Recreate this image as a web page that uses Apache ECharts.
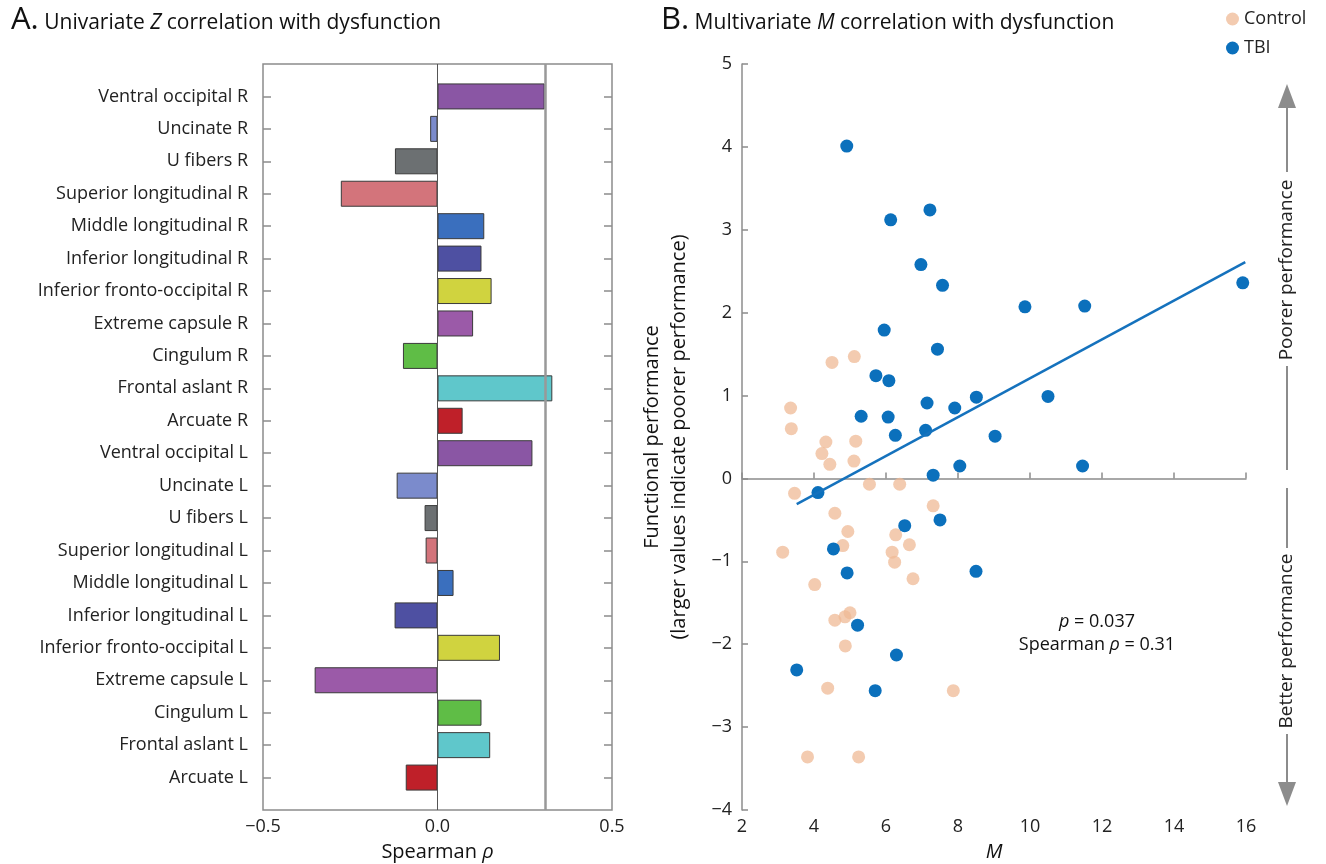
<!DOCTYPE html>
<html>
<head>
<meta charset="utf-8">
<script src="https://cdn.jsdelivr.net/npm/echarts@6/dist/echarts.min.js"></script>
<style>
  html, body { margin: 0; padding: 0; background: #fff; }
  #chart { width: 1326px; height: 864px; }
</style>
</head>
<body>
<div id="chart"></div>
<script>
// panel A: univariate correlations per tract
const tractNames = [
  'Ventral occipital R', 'Uncinate R', 'U fibers R', 'Superior longitudinal R',
  'Middle longitudinal R', 'Inferior longitudinal R', 'Inferior fronto-occipital R',
  'Extreme capsule R', 'Cingulum R', 'Frontal aslant R', 'Arcuate R',
  'Ventral occipital L', 'Uncinate L', 'U fibers L', 'Superior longitudinal L',
  'Middle longitudinal L', 'Inferior longitudinal L', 'Inferior fronto-occipital L',
  'Extreme capsule L', 'Cingulum L', 'Frontal aslant L', 'Arcuate L'
];
const rhoValues = [
  0.307, -0.021, -0.122, -0.277, 0.134, 0.126, 0.155, 0.102, -0.099, 0.329, 0.072,
  0.272, -0.117, -0.037, -0.034, 0.046, -0.123, 0.179, -0.352, 0.126, 0.151, -0.091
];
const tractColors = [
  '#8a56a4', '#7b8bcc', '#6c7072', '#d3747b', '#3a6fbe', '#4e50a2', '#d0d33f',
  '#9b5aa8', '#5fbd46', '#5fc7cb', '#bf2029',
  '#8a56a4', '#7b8bcc', '#6c7072', '#d3747b', '#3a6fbe', '#4e50a2', '#d0d33f',
  '#9b5aa8', '#5fbd46', '#5fc7cb', '#bf2029'
];
const rhoThreshold = 0.31;

// panel B: multivariate M vs functional performance
const controlPoints = [
  [4.50, 1.40], [5.12, 1.47], [3.35, 0.85], [3.37, 0.60], [4.33, 0.44], [5.16, 0.45],
  [4.22, 0.30], [4.44, 0.17], [5.11, 0.21], [5.54, -0.07], [6.38, -0.07], [3.46, -0.18],
  [4.58, -0.42], [4.94, -0.64], [4.80, -0.81], [3.13, -0.89], [7.31, -0.33], [6.27, -0.68],
  [6.65, -0.80], [6.17, -0.89], [6.24, -1.01], [4.02, -1.28], [6.75, -1.21], [4.58, -1.71],
  [4.86, -1.67], [5.00, -1.62], [4.87, -2.02], [4.38, -2.53], [7.87, -2.56], [3.82, -3.36],
  [5.24, -3.36]
];
const tbiPoints = [
  [4.91, 4.01], [6.13, 3.12], [7.22, 3.24], [6.97, 2.58], [7.57, 2.33], [9.86, 2.07],
  [11.52, 2.08], [15.91, 2.36], [5.95, 1.79], [7.43, 1.56], [5.72, 1.24], [6.08, 1.18],
  [7.14, 0.91], [7.91, 0.85], [8.51, 0.98], [10.50, 0.99], [5.31, 0.75], [6.06, 0.74],
  [6.26, 0.52], [7.10, 0.58], [9.03, 0.51], [7.31, 0.04], [8.05, 0.15], [11.46, 0.15],
  [4.11, -0.17], [4.54, -0.85], [6.52, -0.57], [7.50, -0.50], [4.92, -1.14], [8.50, -1.12],
  [5.21, -1.77], [6.29, -2.13], [3.52, -2.31], [5.70, -2.56]
];
const fitLine = [[3.52, -0.31], [15.98, 2.61]];

const FONT = '"Open Sans", "Noto Sans", sans-serif';
const minus = v => String(v).replace('-', '\u2212');

// blank slots at both ends so the ticks sit inside the box like the original
const yCats = [' '].concat(tractNames, ['  ']);
const barData = ['-'].concat(rhoValues.map((v, i) => ({
  value: v,
  itemStyle: { color: tractColors[i] }
})), ['-']);
const tickFilter = (i, v) => v.trim() !== '';

const titleRich = {
  a: { fontSize: 31, fontFamily: FONT, fontWeight: 'normal', color: '#111', verticalAlign: 'bottom' },
  b: { fontSize: 21, fontFamily: FONT, fontWeight: 'normal', color: '#111', verticalAlign: 'bottom', padding: [0, 0, 2, 0] },
  i: { fontSize: 21, fontFamily: FONT, fontWeight: 'normal', fontStyle: 'italic', color: '#111', verticalAlign: 'bottom', padding: [0, 0, 2, 0] }
};

const chart = echarts.init(document.getElementById('chart'));
chart.setOption({
  animation: false,
  textStyle: { fontFamily: FONT },
  title: [
    {
      left: 6, top: 0,
      text: '{a|A.}{b| Univariate }{i|Z}{b| correlation with dysfunction}',
      textStyle: { fontWeight: 'normal', rich: titleRich }
    },
    {
      left: 656, top: 0,
      text: '{a|B.}{b| Multivariate }{i|M}{b| correlation with dysfunction}',
      textStyle: { fontWeight: 'normal', rich: titleRich }
    }
  ],
  legend: {
    left: 1221, top: 5,
    orient: 'vertical',
    icon: 'circle',
    itemWidth: 13, itemHeight: 13, itemGap: 11,
    textStyle: { fontSize: 18, fontFamily: FONT, color: '#222' },
    data: ['Control', 'TBI']
  },
  grid: [
    { left: 263, top: 64, width: 349, height: 746, show: true, outerBoundsMode: 'none',
      borderColor: '#8c8c8c', borderWidth: 1.5, backgroundColor: '#fff' },
    { left: 742, top: 64, width: 504, height: 746, outerBoundsMode: 'none' }
  ],
  xAxis: [
    {
      gridIndex: 0, type: 'value', min: -0.5, max: 0.5, interval: 0.5,
      axisLine: { show: false }, axisTick: { show: false }, splitLine: { show: false },
      axisLabel: { fontSize: 18, color: '#222', margin: 8,
        formatter: v => minus(v.toFixed(1)) },
      name: '{n|Spearman }{i|\u03c1}', nameLocation: 'middle', nameGap: 32,
      nameTextStyle: { rich: {
        n: { fontSize: 20, fontFamily: FONT, color: '#111' },
        i: { fontSize: 20, fontFamily: FONT, fontStyle: 'italic', color: '#111' }
      } }
    },
    {
      gridIndex: 1, type: 'value', min: 2, max: 16, interval: 2,
      axisLine: { show: true, lineStyle: { color: '#8c8c8c', width: 1.5 } },
      axisTick: { show: true, inside: true, length: 6, lineStyle: { color: '#8c8c8c', width: 1.5 } },
      splitLine: { show: false },
      axisLabel: { fontSize: 18, color: '#222', margin: 8 },
      name: 'M', nameLocation: 'middle', nameGap: 32,
      nameTextStyle: { fontSize: 20, fontStyle: 'italic', color: '#111' }
    }
  ],
  yAxis: [
    {
      gridIndex: 0, type: 'category', data: yCats, inverse: true, boundaryGap: false,
      axisLine: { show: false, onZero: false },
      axisTick: { show: true, inside: true, length: 8, interval: tickFilter,
        lineStyle: { color: '#8c8c8c', width: 1.5 } },
      axisLabel: { fontSize: 18, color: '#222', margin: 15, interval: 0 }
    },
    {
      gridIndex: 0, type: 'category', data: yCats, inverse: true, boundaryGap: false,
      position: 'right',
      axisLine: { show: false, onZero: false },
      axisTick: { show: true, inside: true, length: 8, interval: tickFilter,
        lineStyle: { color: '#8c8c8c', width: 1.5 } },
      axisLabel: { show: false }
    },
    {
      gridIndex: 1, type: 'value', min: -4, max: 5, interval: 1,
      axisLine: { show: true, lineStyle: { color: '#8c8c8c', width: 1.5 } },
      axisTick: { show: true, inside: true, length: 6, lineStyle: { color: '#8c8c8c', width: 1.5 } },
      splitLine: { show: false },
      axisLabel: { fontSize: 18, color: '#222', margin: 10, formatter: v => minus(v) },
      name: 'Functional performance\n(larger values indicate poorer performance)',
      nameLocation: 'middle', nameGap: 49,
      nameTextStyle: { fontSize: 20, color: '#111', lineHeight: 27 }
    }
  ],
  series: [
    {
      type: 'bar', xAxisIndex: 0, yAxisIndex: 0,
      data: barData, barWidth: 26,
      itemStyle: { borderColor: '#3a3a3a', borderWidth: 1 },
      markLine: {
        silent: true, symbol: 'none', label: { show: false },
        data: [
          { xAxis: 0, lineStyle: { color: '#555', width: 1, type: 'solid' } },
          { xAxis: rhoThreshold, lineStyle: { color: '#999', width: 2.5, type: 'solid' } }
        ]
      }
    },
    {
      name: 'Control', type: 'scatter', xAxisIndex: 1, yAxisIndex: 2,
      data: controlPoints, symbolSize: 13,
      itemStyle: { color: '#efb995', opacity: 0.75 }
    },
    {
      type: 'line', xAxisIndex: 1, yAxisIndex: 2,
      data: fitLine, symbol: 'none', silent: true,
      lineStyle: { color: '#1572bd', width: 2.5 }
    },
    {
      name: 'TBI', type: 'scatter', xAxisIndex: 1, yAxisIndex: 2,
      data: tbiPoints, symbolSize: 13,
      itemStyle: { color: '#0b70bc', opacity: 1 }
    }
  ],
  graphic: [
    {
      type: 'text', x: 1097, y: 622,
      style: {
        text: '{i|p} = 0.037', align: 'center', verticalAlign: 'middle',
        rich: { i: { fontSize: 18, fontFamily: FONT, fontStyle: 'italic', fill: '#111' } },
        fontSize: 18, fontFamily: FONT, fill: '#111'
      }
    },
    {
      type: 'text', x: 1097, y: 645,
      style: {
        text: 'Spearman {i|\u03c1} = 0.31', align: 'center', verticalAlign: 'middle',
        rich: { i: { fontSize: 18, fontFamily: FONT, fontStyle: 'italic', fill: '#111' } },
        fontSize: 18, fontFamily: FONT, fill: '#111'
      }
    },
    // performance direction arrows on the right
    { type: 'polygon', shape: { points: [[1287, 84], [1278, 108], [1296, 108]] }, style: { fill: '#8c8c8c' } },
    { type: 'line', shape: { x1: 1287, y1: 106, x2: 1287, y2: 172 }, style: { stroke: '#8c8c8c', lineWidth: 2 } },
    {
      type: 'text', x: 1287, y: 270, rotation: Math.PI / 2,
      style: { text: 'Poorer performance', align: 'center', verticalAlign: 'middle',
        fontSize: 19, fontFamily: FONT, fill: '#222' }
    },
    { type: 'line', shape: { x1: 1287, y1: 366, x2: 1287, y2: 470 }, style: { stroke: '#8c8c8c', lineWidth: 2 } },
    { type: 'line', shape: { x1: 1287, y1: 488, x2: 1287, y2: 548 }, style: { stroke: '#8c8c8c', lineWidth: 2 } },
    {
      type: 'text', x: 1287, y: 641, rotation: Math.PI / 2,
      style: { text: 'Better performance', align: 'center', verticalAlign: 'middle',
        fontSize: 19, fontFamily: FONT, fill: '#222' }
    },
    { type: 'line', shape: { x1: 1287, y1: 734, x2: 1287, y2: 784 }, style: { stroke: '#8c8c8c', lineWidth: 2 } },
    { type: 'polygon', shape: { points: [[1287, 806], [1278, 782], [1296, 782]] }, style: { fill: '#8c8c8c' } }
  ]
});
</script>
</body>
</html>
